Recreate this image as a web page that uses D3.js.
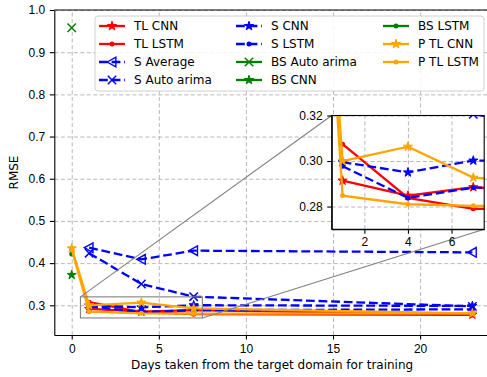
<!DOCTYPE html>
<html>
<head>
<meta charset="utf-8">
<script src="https://cdn.jsdelivr.net/npm/d3@7"></script>
<style>
  body { margin: 0; background: #fff; }
  svg { display: block; font-family: "DejaVu Sans", sans-serif; }
  .grid line { stroke: #b0b0b0; stroke-dasharray: 4,2.5; stroke-width: 0.9; }
  .grid .domain { display: none; }
  .axis text { font-size: 12px; fill: #000; }
  .axis line, .axis path { stroke: #000; stroke-width: 1.1; }
</style>
</head>
<body>
<svg id="chart" width="487" height="377"></svg>
<script>
// x positions (days taken from the target domain)
var days = [1, 4, 7, 23];
var pDays = [0, 1, 4, 7, 23];
var bsDays = [0];

// RMSE values per model
var tlCnn = [0.2914, 0.2848, 0.2885, 0.2780];
var tlLstm = [0.3074, 0.2838, 0.2790, 0.2772];
var sAverage = [0.4365, 0.4090, 0.4295, 0.4255];
var sAutoArima = [0.4235, 0.3505, 0.3205, 0.2975];
var sCnn = [0.2995, 0.2950, 0.3002, 0.2985];
var sLstm = [0.2977, 0.2838, 0.2883, 0.2905];
var bsAutoArima = [0.958];
var bsCnn = [0.372];
var bsLstm = [0.4215];
var pTlCnn = [0.4350, 0.3000, 0.3063, 0.2927, 0.2810];
var pTlLstm = [0.4330, 0.2848, 0.2810, 0.2803, 0.2808];

var xTicks = [0, 5, 10, 15, 20];
var yTicks = [0.3, 0.4, 0.5, 0.6, 0.7, 0.8, 0.9, 1.0];
var insetXTicks = [2, 4, 6];
var insetYTicks = [0.28, 0.30, 0.32];

var series = [
    {name: "TL CNN", x: days, y: tlCnn, color: "red", dashed: false, marker: "star"},
    {name: "TL LSTM", x: days, y: tlLstm, color: "red", dashed: false, marker: "dot"},
    {name: "S Average", x: days, y: sAverage, color: "blue", dashed: true, marker: "tri"},
    {name: "S Auto arima", x: days, y: sAutoArima, color: "blue", dashed: true, marker: "x"},
    {name: "S CNN", x: days, y: sCnn, color: "blue", dashed: true, marker: "star"},
    {name: "S LSTM", x: days, y: sLstm, color: "blue", dashed: true, marker: "dot"},
    {name: "BS Auto arima", x: bsDays, y: bsAutoArima, color: "green", dashed: false, marker: "x"},
    {name: "BS CNN", x: bsDays, y: bsCnn, color: "green", dashed: false, marker: "star"},
    {name: "BS LSTM", x: bsDays, y: bsLstm, color: "green", dashed: false, marker: "dot"},
    {name: "P TL CNN", x: pDays, y: pTlCnn, color: "orange", dashed: false, marker: "star"},
    {name: "P TL LSTM", x: pDays, y: pTlLstm, color: "orange", dashed: false, marker: "dot"}
];

var svg = d3.select("#chart");

var pLeft = 54.3, pRight = 489.8, pTop = 10, pBottom = 335;
var x = d3.scaleLinear().domain([-1, 24]).range([pLeft, pRight]);
var y = d3.scaleLinear().domain([0.2296, 1.0]).range([pBottom, pTop]);

var inL = 331.7, inR = 484.2, inT = 115.5, inB = 229.3;
var xi = d3.scaleLinear().domain([0.5, 7.5]).range([inL, inR]);
var yi = d3.scaleLinear().domain([0.27, 0.32]).range([inB, inT]);

var defs = svg.append("defs");
defs.append("clipPath").attr("id", "clipMain").append("rect")
    .attr("x", pLeft).attr("y", pTop).attr("width", pRight - pLeft).attr("height", pBottom - pTop);
defs.append("clipPath").attr("id", "clipInset").append("rect")
    .attr("x", inL).attr("y", inT).attr("width", inR - inL).attr("height", inB - inT);

function drawMarker(g, type, color, px, py) {
    if (type === "star") {
        g.append("path")
            .attr("d", d3.symbol().type(d3.symbolStar).size(26)())
            .attr("transform", "translate(" + px + "," + py + ")")
            .attr("fill", color).attr("stroke", color).attr("stroke-width", 1);
    } else if (type === "dot") {
        g.append("circle").attr("cx", px).attr("cy", py).attr("r", 2.5)
            .attr("fill", color);
    } else if (type === "x") {
        var s = 4.2;
        g.append("path")
            .attr("d", "M" + (px - s) + "," + (py - s) + "L" + (px + s) + "," + (py + s) +
                       "M" + (px - s) + "," + (py + s) + "L" + (px + s) + "," + (py - s))
            .attr("stroke", color).attr("stroke-width", 1.5).attr("fill", "none");
    } else if (type === "tri") {
        var r = 4.8;
        g.append("path")
            .attr("d", "M" + (px - r) + "," + py + "L" + (px + r * 0.8) + "," + (py - r) +
                       "L" + (px + r * 0.8) + "," + (py + r) + "Z")
            .attr("stroke", color).attr("stroke-width", 1.4).attr("fill", "none");
    }
}

function drawSeries(g, xs, ys) {
    series.forEach(function(s) {
        var pts = s.x.map(function(d, i) { return [d, s.y[i]]; });
        var line = d3.line().x(function(d) { return xs(d[0]); }).y(function(d) { return ys(d[1]); });
        if (pts.length > 1) {
            g.append("path")
                .datum(pts)
                .attr("d", line)
                .attr("fill", "none")
                .attr("stroke", s.color)
                .attr("stroke-width", 2.3)
                .attr("stroke-dasharray", s.dashed ? "8.8,3.8" : null);
        }
        pts.forEach(function(p) {
            drawMarker(g, s.marker, s.color, xs(p[0]), ys(p[1]));
        });
    });
}

// main grid
svg.append("g").attr("class", "grid")
    .attr("transform", "translate(0," + pBottom + ")")
    .call(d3.axisBottom(x).tickValues(xTicks).tickSize(-(pBottom - pTop)).tickFormat(""));
svg.append("g").attr("class", "grid")
    .attr("transform", "translate(" + pLeft + ",0)")
    .call(d3.axisLeft(y).tickValues(yTicks).tickSize(-(pRight - pLeft)).tickFormat(""));

// main lines
var main = svg.append("g").attr("clip-path", "url(#clipMain)");
drawSeries(main, x, y);

// zoom indicator rectangle and connectors
var ec = "#808080";
svg.append("rect")
    .attr("x", x(0.5)).attr("y", y(0.32))
    .attr("width", x(7.5) - x(0.5)).attr("height", y(0.27) - y(0.32))
    .attr("fill", "none").attr("stroke", ec).attr("stroke-width", 1.1);
svg.append("line")
    .attr("x1", x(0.5)).attr("y1", y(0.32)).attr("x2", inL).attr("y2", inT)
    .attr("stroke", ec).attr("stroke-width", 1.1);
svg.append("line")
    .attr("x1", x(7.5)).attr("y1", y(0.27)).attr("x2", inR).attr("y2", inB)
    .attr("stroke", ec).attr("stroke-width", 1.1);

// main axes
svg.append("g").attr("class", "axis")
    .attr("transform", "translate(0," + pBottom + ")")
    .call(d3.axisBottom(x).tickValues(xTicks).tickSize(4.5).tickPadding(5).tickSizeOuter(0));
svg.append("g").attr("class", "axis")
    .attr("transform", "translate(" + pLeft + ",0)")
    .call(d3.axisLeft(y).tickValues(yTicks).tickSize(4.5).tickPadding(4.5).tickSizeOuter(0)
        .tickFormat(d3.format(".1f")));
svg.append("line").attr("x1", pLeft).attr("x2", pRight).attr("y1", pTop).attr("y2", pTop)
    .attr("stroke", "#000").attr("stroke-width", 1.1);
svg.append("line").attr("x1", pRight).attr("x2", pRight).attr("y1", pTop).attr("y2", pBottom)
    .attr("stroke", "#000").attr("stroke-width", 1.1);

svg.append("text")
    .attr("x", (pLeft + pRight) / 2).attr("y", 369)
    .attr("text-anchor", "middle").style("font-size", "12px")
    .text("Days taken from the target domain for training");
svg.append("text")
    .attr("transform", "translate(18," + ((pTop + pBottom) / 2) + ") rotate(-90)")
    .attr("text-anchor", "middle").style("font-size", "12px")
    .text("RMSE");

// legend
var legend = svg.append("g");
legend.append("rect")
    .attr("x", 95).attr("y", 16).attr("width", 389).attr("height", 75)
    .attr("rx", 3)
    .attr("fill", "#fff").attr("fill-opacity", 0.85)
    .attr("stroke", "#d0d0d0").attr("stroke-width", 1);
var colX = [99, 236, 383];
var rowY = [26, 44, 62, 80];
series.forEach(function(s, i) {
    var c = Math.floor(i / 4), r = i % 4;
    var x0 = colX[c], yy = rowY[r];
    legend.append("line")
        .attr("x1", x0).attr("x2", x0 + 26).attr("y1", yy).attr("y2", yy)
        .attr("stroke", s.color).attr("stroke-width", 2.3)
        .attr("stroke-dasharray", s.dashed ? "8.8,3.8" : null);
    drawMarker(legend, s.marker, s.color, x0 + 13, yy);
    legend.append("text")
        .attr("x", x0 + 35).attr("y", yy + 4.3)
        .style("font-size", "12px")
        .text(s.name);
});

// inset axes
svg.append("rect")
    .attr("x", inL).attr("y", inT).attr("width", inR - inL).attr("height", inB - inT)
    .attr("fill", "#fff");
svg.append("g").attr("class", "grid")
    .attr("transform", "translate(0," + inB + ")")
    .call(d3.axisBottom(xi).tickValues(insetXTicks).tickSize(-(inB - inT)).tickFormat(""));
svg.append("g").attr("class", "grid")
    .attr("transform", "translate(" + inL + ",0)")
    .call(d3.axisLeft(yi).tickValues(insetYTicks).tickSize(-(inR - inL)).tickFormat(""));
var inset = svg.append("g").attr("clip-path", "url(#clipInset)");
drawSeries(inset, xi, yi);
svg.append("g").attr("class", "axis")
    .attr("transform", "translate(0," + inB + ")")
    .call(d3.axisBottom(xi).tickValues(insetXTicks).tickSize(4.5).tickPadding(4).tickSizeOuter(0)
        .tickFormat(d3.format("d")));
svg.append("g").attr("class", "axis")
    .attr("transform", "translate(" + inL + ",0)")
    .call(d3.axisLeft(yi).tickValues(insetYTicks).tickSize(4.5).tickPadding(4.5).tickSizeOuter(0)
        .tickFormat(d3.format(".2f")));
svg.append("rect")
    .attr("x", inL).attr("y", inT).attr("width", inR - inL).attr("height", inB - inT)
    .attr("fill", "none").attr("stroke", "#000").attr("stroke-width", 1.1);
</script>
</body>
</html>
